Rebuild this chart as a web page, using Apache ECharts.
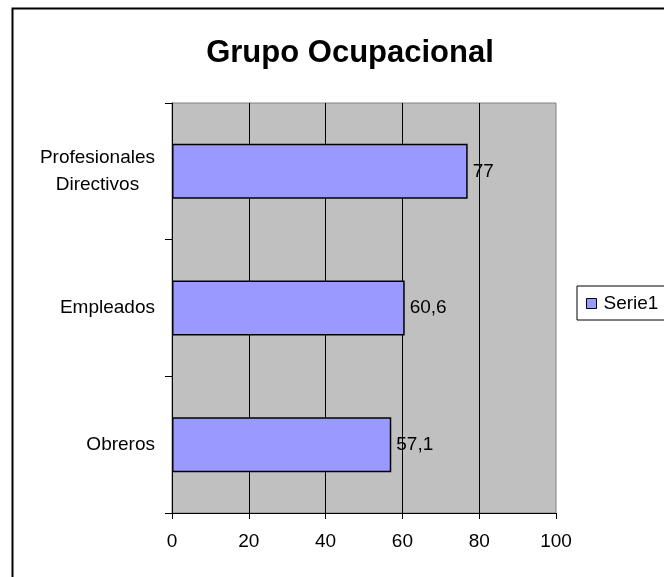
<!DOCTYPE html>
<html>
<head>
<meta charset="utf-8">
<script src="https://cdn.jsdelivr.net/npm/echarts@6/dist/echarts.min.js"></script>
<style>
  html, body { margin: 0; padding: 0; background: #fff; }
  #main { width: 664px; height: 577px; }
</style>
</head>
<body>
<div id="main"></div>
<script>
const categories = ['Profesionales\nDirectivos', 'Empleados', 'Obreros'];
const serie1 = [77, 60.6, 57.1];
const xTicks = [0, 20, 40, 60, 80, 100];

const font = 'Liberation Sans, Arial, sans-serif';

const chart = echarts.init(document.getElementById('main'), null, { renderer: 'canvas' });

const option = {
  animation: false,
  backgroundColor: '#fff',
  textStyle: { fontFamily: font },
  title: {
    text: 'Grupo Ocupacional',
    left: 345,
    textAlign: 'center',
    top: 33,
    textStyle: { fontSize: 31, fontWeight: 'bold', color: '#000', fontFamily: font }
  },
  legend: {
    data: ['Serie1'],
    left: 577,
    top: 286,
    orient: 'vertical',
    icon: 'rect',
    itemWidth: 10,
    itemHeight: 10,
    itemGap: 0,
    padding: [8, 40, 7, 9],
    borderColor: '#000',
    borderWidth: 1,
    itemStyle: { borderColor: '#000', borderWidth: 1 },
    textStyle: { fontSize: 19, color: '#000', fontFamily: font, padding: [0, 0, 0, 2] }
  },
  grid: {
    left: 172,
    right: 108,
    top: 103,
    bottom: 64,
    show: true,
    backgroundColor: '#c0c0c0',
    borderColor: '#808080',
    borderWidth: 1
  },
  xAxis: {
    type: 'value',
    min: xTicks[0],
    max: xTicks[xTicks.length - 1],
    interval: 20,
    axisLine: { show: true, lineStyle: { color: '#000', width: 1 } },
    axisTick: { show: true, length: 6, lineStyle: { color: '#000' } },
    axisLabel: { fontSize: 19, color: '#000', margin: 19, fontFamily: font },
    splitLine: { show: true, showMaxLine: false, lineStyle: { color: '#000', width: 1 } }
  },
  yAxis: {
    type: 'category',
    data: categories,
    inverse: true,
    axisLine: { show: true, lineStyle: { color: '#000', width: 1 } },
    axisTick: { show: true, length: 7, alignWithLabel: false, lineStyle: { color: '#000' } },
    axisLabel: {
      margin: 17,
      formatter: function (v) {
        return v.split('\n').map(function (s) { return '{c|' + s + '}'; }).join('\n');
      },
      rich: {
        c: { fontSize: 19, color: '#000', lineHeight: 27, align: 'center', fontFamily: font }
      }
    },
    splitLine: { show: false }
  },
  series: [{
    name: 'Serie1',
    type: 'bar',
    data: serie1,
    barWidth: 55,
    itemStyle: { color: '#9999ff', borderColor: '#000', borderWidth: 1.5 },
    label: {
      show: true,
      position: 'right',
      distance: 5,
      fontSize: 19,
      color: '#000',
      fontFamily: font,
      formatter: function (p) { return String(p.value).replace('.', ','); }
    }
  }],
  graphic: [{
    type: 'rect',
    left: 10,
    top: 6,
    shape: { width: 700, height: 620 },
    style: { fill: 'none', stroke: '#000', lineWidth: 2 },
    silent: true,
    z: 100
  }]
};

chart.setOption(option);
</script>
</body>
</html>
